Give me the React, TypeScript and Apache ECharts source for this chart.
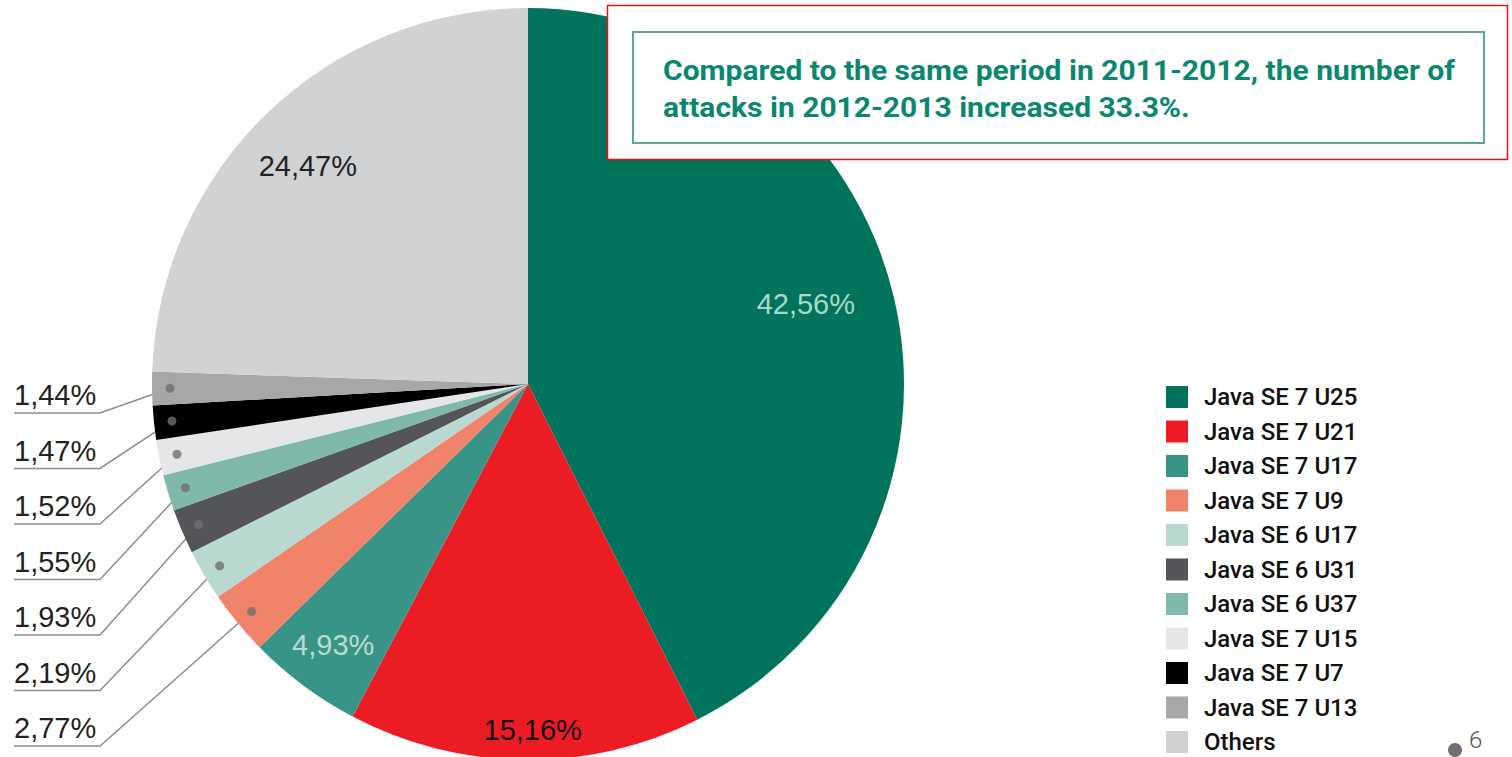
import React, { useEffect, useRef } from "react";
import * as echarts from "echarts";

const names = [
  "Java SE 7 U25",
  "Java SE 7 U21",
  "Java SE 7 U17",
  "Java SE 7 U9",
  "Java SE 6 U17",
  "Java SE 6 U31",
  "Java SE 6 U37",
  "Java SE 7 U15",
  "Java SE 7 U7",
  "Java SE 7 U13",
  "Others",
];
const values = [42.56, 15.16, 4.93, 2.77, 2.19, 1.93, 1.55, 1.52, 1.47, 1.44, 24.47];
const sliceColors = [
  "#00735c",
  "#ec1c24",
  "#389486",
  "#f2836b",
  "#b8d8d0",
  "#545559",
  "#80b8ac",
  "#e5e6e8",
  "#000000",
  "#a6a7a9",
  "#d1d2d4",
];
const labelColors = [
  "#a9d8cb",
  "#111111",
  "#b7ddd3",
  "#222222",
  "#222222",
  "#222222",
  "#222222",
  "#222222",
  "#222222",
  "#222222",
  "#222222",
];
// slices whose label sits inside the slice: distance from centre and small angular nudge (deg)
const insideLabelRadius: Record<number, number> = { 0: 289, 1: 346, 2: 326, 10: 310 };
const insideLabelNudge: Record<number, number> = { 0: -2.6, 1: -1.3, 2: 0, 10: -1.2 };
// slices labelled in the left column, top to bottom
const calloutOrder = [9, 8, 7, 6, 5, 4, 3];
const noteLines = [
  "Compared to the same period in 2011-2012, the number of",
  "attacks in 2012-2013 increased 33.3%.",
];
const pageNumber = "6";

const CX = 528;
const CY = 384;
const R = 376;
const DOT_R = 358;

const fmt = (v: number) => v.toFixed(2).replace(".", ",") + "%";

export default function App() {
  const ref = useRef<HTMLDivElement>(null);
  useEffect(() => {
    if (!ref.current) return;
    const chart = echarts.init(ref.current, undefined, { renderer: "svg" });
    const total = values.reduce((a, b) => a + b, 0);
    const mids: number[] = [];
    let cum = 0;
    values.forEach((v) => {
      mids.push(cum + v / 2);
      cum += v;
    });

    const data = names.map((n, i) => ({
      name: n,
      value: values[i],
      itemStyle: { color: sliceColors[i] },
      label: { color: labelColors[i] },
      labelLine: { show: insideLabelRadius[i] == null },
    }));

    const dots = calloutOrder.map((i) => [DOT_R, mids[i]]);

    chart.setOption({
      animation: false,
      backgroundColor: "#ffffff",
      polar: { center: [CX, CY], radius: R },
      angleAxis: { type: "value", min: 0, max: total, startAngle: 90, clockwise: true, show: false },
      radiusAxis: { type: "value", min: 0, max: R, show: false },
      legend: {
        orient: "vertical",
        left: 1166,
        top: 385,
        padding: 0,
        itemWidth: 22,
        itemHeight: 22,
        itemGap: 10.5,
        icon: "rect",
        selectedMode: false,
        data: names,
        textStyle: {
          fontFamily: "Roboto",
          fontWeight: 500,
          fontSize: 24,
          color: "#111111",
          padding: [0, 0, 0, 11],
        },
      },
      series: [
        {
          type: "pie",
          center: [CX, CY],
          radius: [0, R],
          startAngle: 90,
          clockwise: true,
          avoidLabelOverlap: false,
          minShowLabelAngle: 0,
          itemStyle: { borderWidth: 0 },
          label: {
            show: true,
            fontFamily: "Liberation Sans",
            fontSize: 29,
            formatter: (p: any) => fmt(p.value),
          },
          labelLine: { show: true, lineStyle: { color: "#8c8c8c", width: 1.5 } },
          labelLayout: (p: any) => {
            const i = p.dataIndex;
            const th = (mids[i] / total) * 2 * Math.PI;
            const ir = insideLabelRadius[i];
            if (ir != null) {
              const a = th + ((insideLabelNudge[i] || 0) * Math.PI) / 180;
              return {
                x: CX + ir * Math.sin(a),
                y: CY - ir * Math.cos(a),
                align: "center",
                verticalAlign: "middle",
              };
            }
            const row = calloutOrder.indexOf(i);
            const ty = 395 + row * 55.5;
            const uy = ty + 18;
            const dx = CX + DOT_R * Math.sin(th);
            const dy = CY - DOT_R * Math.cos(th);
            return {
              x: 14,
              y: ty,
              align: "left",
              verticalAlign: "middle",
              labelLinePoints: [
                [dx, dy],
                [100, uy],
                [14, uy],
              ],
            };
          },
          data,
        },
        {
          type: "scatter",
          coordinateSystem: "polar",
          symbol: "circle",
          symbolSize: 9,
          itemStyle: { color: "#6f6f6f" },
          silent: true,
          z: 5,
          data: dots,
        },
      ],
      graphic: [
        {
          type: "rect",
          z: 100,
          shape: { x: 607.5, y: 5.5, width: 900, height: 154 },
          style: { fill: "#ffffff", stroke: "#ee1111", lineWidth: 1.5 },
        },
        {
          type: "rect",
          z: 101,
          shape: { x: 633, y: 32, width: 851, height: 111 },
          style: { fill: "none", stroke: "#5fa595", lineWidth: 2 },
        },
        {
          type: "text",
          z: 102,
          x: 663,
          y: 52,
          scaleX: 1.072,
          style: {
            text: noteLines.join("\n"),
            font: "bold 28px Roboto",
            fill: "#0a876f",
            lineHeight: 37,
            verticalAlign: "top",
            align: "left",
          },
        },
        {
          type: "circle",
          z: 100,
          shape: { cx: 1455, cy: 750, r: 7 },
          style: { fill: "#6f6f6f" },
        },
        {
          type: "text",
          z: 100,
          x: 1469,
          y: 752,
          style: {
            text: pageNumber,
            font: "300 24px Roboto",
            fill: "#555555",
            verticalAlign: "bottom",
          },
        },
      ],
    });
    return () => chart.dispose();
  }, []);
  return (
    <div
      ref={ref}
      style={{ position: "fixed", left: 0, top: 0, width: 1512, height: 757 }}
    />
  );
}
